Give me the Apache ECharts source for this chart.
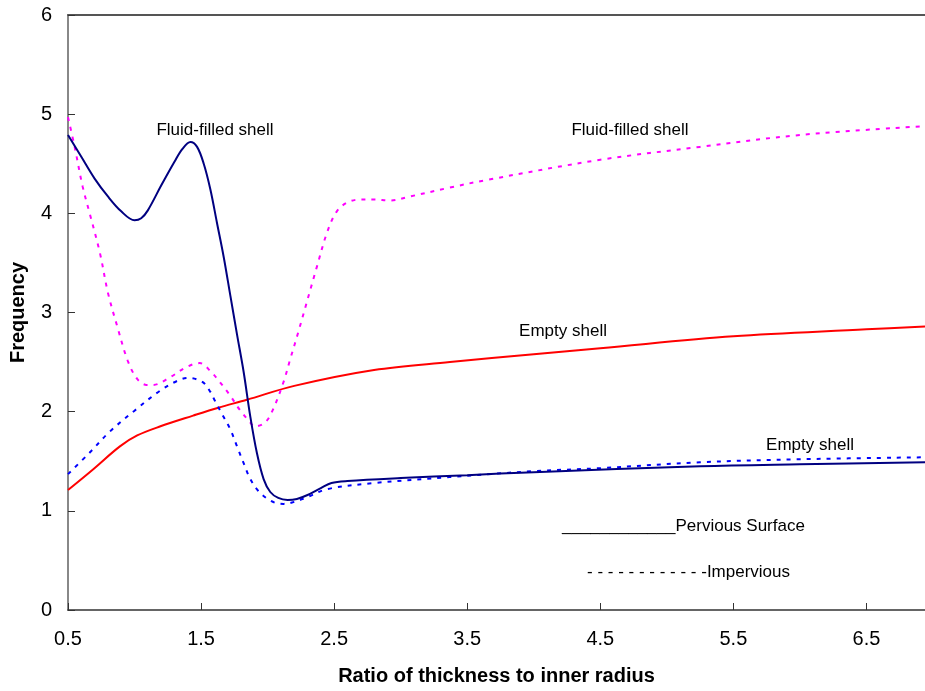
<!DOCTYPE html>
<html>
<head>
<meta charset="utf-8">
<script src="https://cdn.jsdelivr.net/npm/echarts@6/dist/echarts.min.js"></script>
<style>
html,body{margin:0;padding:0;background:#fff;}
#chart{width:925px;height:691px;}
</style>
</head>
<body>
<div id="chart"></div>
<script>
// Fluid-filled shell, pervious surface (solid navy)
var fluidPervX = [0.5,0.6,0.7,0.8,0.9,1.0,1.05,1.1,1.2,1.3,1.36,1.42,1.47,1.52,1.57,1.62,1.67,1.72,1.77,1.82,1.87,1.92,1.97,2.02,2.08,2.15,2.22,2.30,2.40,2.48,2.6,3.0,3.5,4.0,5.25,6.0,6.94];
var fluidPervY = [4.79,4.57,4.35,4.17,4.02,3.93,3.95,4.03,4.28,4.52,4.65,4.72,4.67,4.50,4.24,3.90,3.56,3.17,2.78,2.40,1.95,1.58,1.32,1.19,1.13,1.11,1.12,1.16,1.23,1.28,1.30,1.33,1.36,1.39,1.45,1.47,1.49];
// Fluid-filled shell, impervious (dashed magenta)
var fluidImpX = [0.5,0.55,0.61,0.665,0.74,0.80,0.87,0.95,1.02,1.09,1.14,1.27,1.39,1.49,1.57,1.64,1.72,1.79,1.87,1.90,1.98,2.04,2.12,2.17,2.23,2.37,2.45,2.52,2.6,2.7,2.8,2.92,3.07,3.37,3.66,4.5,5.25,6.0,6.94];
var fluidImpY = [4.97,4.67,4.27,3.99,3.60,3.20,2.86,2.51,2.33,2.27,2.27,2.35,2.45,2.49,2.41,2.30,2.16,2.02,1.89,1.85,1.89,2.02,2.30,2.53,2.80,3.46,3.82,4.02,4.11,4.14,4.14,4.13,4.17,4.26,4.34,4.54,4.67,4.79,4.88];
// Empty shell, pervious surface (solid red)
var emptyPervX = [0.5,0.69,0.89,1.02,1.19,1.44,1.63,1.845,2.2,2.8,3.37,4.0,4.5,5.5,6.5,6.94];
var emptyPervY = [1.21,1.42,1.65,1.76,1.85,1.96,2.04,2.12,2.26,2.42,2.50,2.58,2.64,2.76,2.83,2.86];
// Empty shell, impervious (dashed blue)
var emptyImpX = [0.5,0.665,0.815,1.0,1.19,1.32,1.40,1.51,1.57,1.60,1.66,1.72,1.77,1.82,1.87,1.93,2.0,2.06,2.12,2.2,2.3,2.45,2.8,3.37,4.0,4.5,5.25,6.0,6.94];
var emptyImpY = [1.37,1.59,1.80,2.01,2.21,2.31,2.34,2.30,2.20,2.12,1.97,1.82,1.65,1.48,1.32,1.20,1.12,1.08,1.07,1.09,1.14,1.22,1.28,1.34,1.40,1.43,1.49,1.52,1.54];

var xMin = 0.5, xMax = 6.94;
var yMin = 0, yMax = 6;

function pairs(xs, ys){ return xs.map(function(x,i){ return [x, ys[i]]; }); }

var FONT = '"Liberation Sans", Arial, sans-serif';
var chart = echarts.init(document.getElementById('chart'), null, {renderer:'canvas'});

function lineSeries(name, xs, ys, color, type){
  return {
    name: name, type: 'line', data: pairs(xs, ys),
    showSymbol: false, symbol: 'none', smooth: 0.35,
    lineStyle: {color: color, width: 2, type: type},
    itemStyle: {color: color}, z: 3, animation: false
  };
}

function annot(text, x, y){
  return {type:'text', x:x, y:y, z:10, style:{text:text, fill:'#000', font:'17px ' + FONT, align:'center', verticalAlign:'middle', textAlign:'center', textVerticalAlign:'middle'}};
}

chart.setOption({
  animation: false,
  backgroundColor: '#fff',
  grid: {left: 68, right: 0, top: 15, bottom: 80, containLabel: false},
  xAxis: [{
    type: 'value', min: xMin, max: xMax, interval: 1, position: 'bottom',
    name: 'Ratio of thickness to inner radius', nameLocation: 'middle', nameGap: 56,
    nameTextStyle: {fontFamily: FONT, fontSize: 20, fontWeight: 'bold', color: '#000'},
    axisLine: {show: true, lineStyle: {color: '#333', width: 1.5}},
    axisTick: {show: true, inside: true, length: 7, lineStyle: {color: '#333', width: 1}},
    axisLabel: {fontFamily: FONT, fontSize: 20, color: '#000', margin: 19, showMaxLabel: false,
      formatter: function(v){ return v.toFixed(1); }},
    splitLine: {show: false}
  },{
    type: 'value', min: xMin, max: xMax, position: 'top',
    axisLine: {show: true, lineStyle: {color: '#555', width: 2}},
    axisTick: {show: false}, axisLabel: {show: false}, splitLine: {show: false}
  }],
  yAxis: {
    type: 'value', min: yMin, max: yMax, interval: 1,
    name: 'Frequency', nameLocation: 'middle', nameGap: 40,
    nameTextStyle: {fontFamily: FONT, fontSize: 20, fontWeight: 'bold', color: '#000'},
    axisLine: {show: true, lineStyle: {color: '#888', width: 2}},
    axisTick: {show: true, inside: true, length: 7, lineStyle: {color: '#333', width: 1}},
    axisLabel: {fontFamily: FONT, fontSize: 20, color: '#000', margin: 16},
    splitLine: {show: false}
  },
  series: [
    lineSeries('Empty shell pervious', emptyPervX, emptyPervY, '#FF0000', 'solid'),
    lineSeries('Empty shell impervious', emptyImpX, emptyImpY, '#0000FF', [4, 6]),
    lineSeries('Fluid-filled shell impervious', fluidImpX, fluidImpY, '#FF00FF', [4, 6]),
    lineSeries('Fluid-filled shell pervious', fluidPervX, fluidPervY, '#000080', 'solid')
  ],
  graphic: [
    annot('Fluid-filled shell', 215, 130),
    annot('Fluid-filled shell', 630, 130),
    annot('Empty shell', 563, 331),
    annot('Empty shell', 810, 445),
    {type:'text', x:562, y:526, z:10, style:{text:'____________Pervious Surface', fill:'#000', font:'17px ' + FONT, align:'left', verticalAlign:'middle', textAlign:'left', textVerticalAlign:'middle'}},
    {type:'text', x:587, y:572, z:10, style:{text:'- - - - - - - - - - - -Impervious', fill:'#000', font:'17px ' + FONT, align:'left', verticalAlign:'middle', textAlign:'left', textVerticalAlign:'middle'}}
  ]
});
</script>
</body>
</html>
